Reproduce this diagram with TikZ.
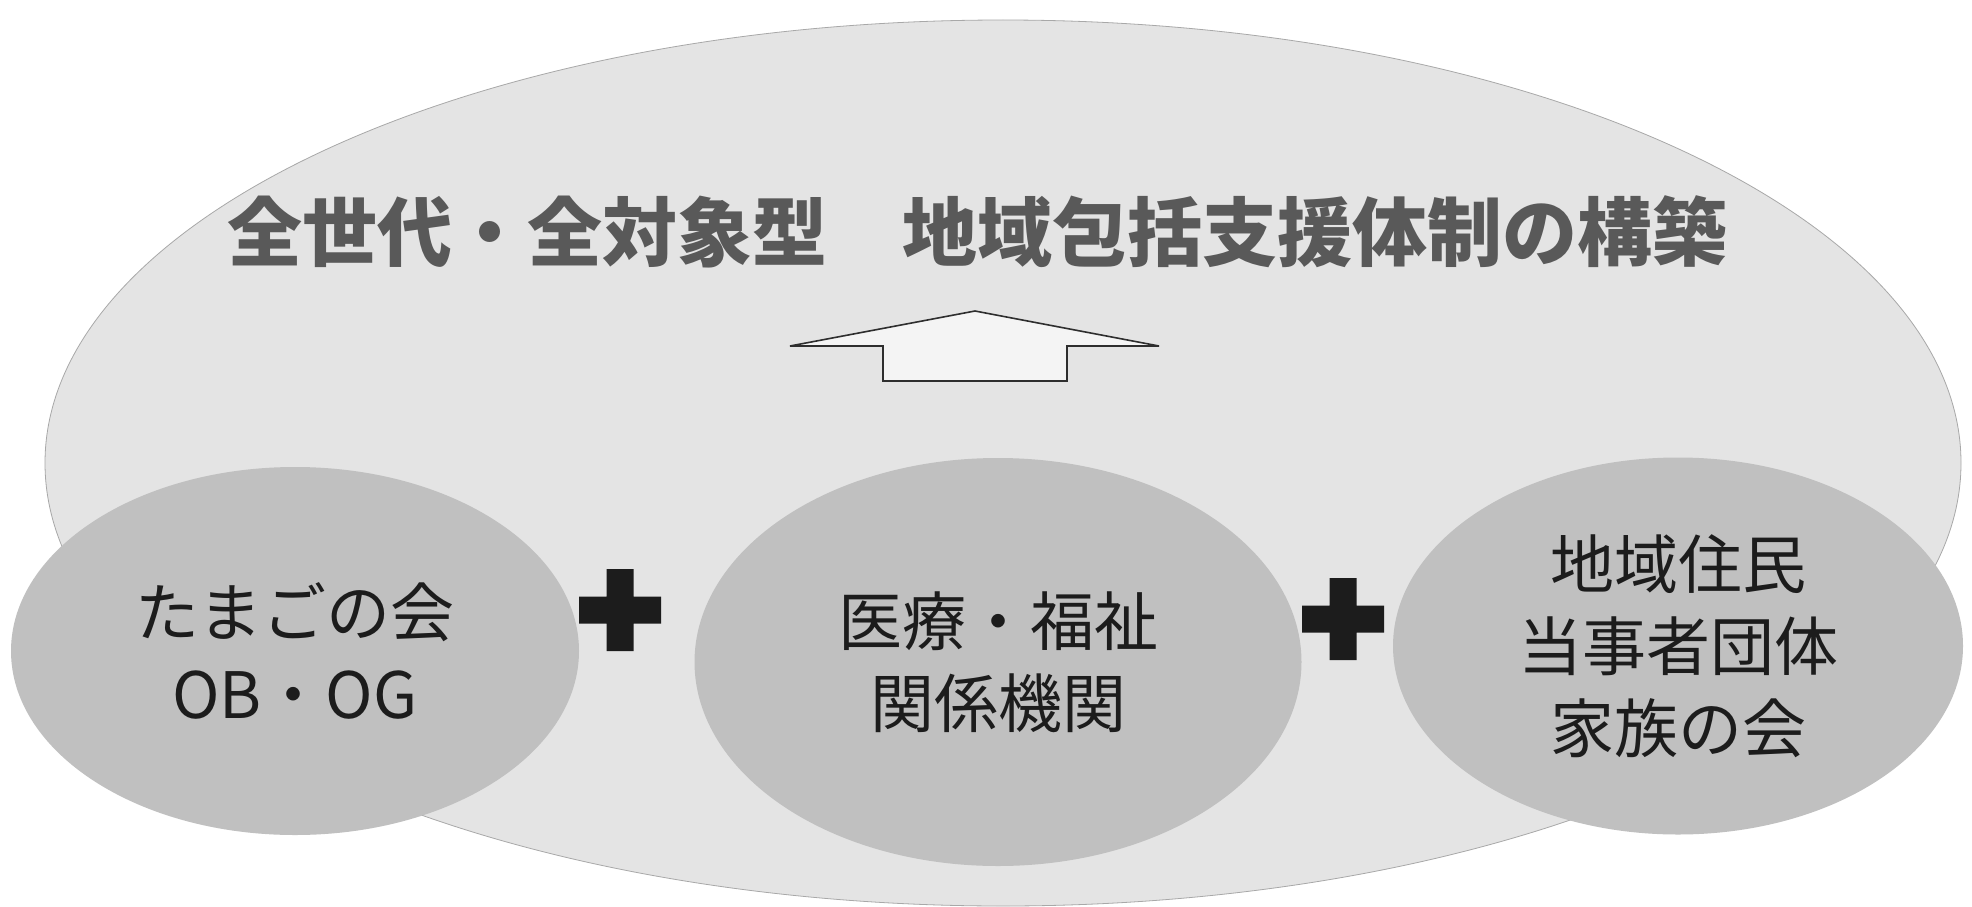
\documentclass[tikz,border=0pt]{standalone}
\usepackage{fontspec}
\newfontfamily\jp{Noto Sans CJK JP}
\usetikzlibrary{shapes.geometric}
\definecolor{bigfill}{HTML}{E4E4E4}
\definecolor{bigline}{HTML}{A8A8A8}
\definecolor{smallfill}{HTML}{C0C0C0}
\definecolor{titlegray}{HTML}{595959}
\definecolor{ink}{HTML}{1C1C1C}
\definecolor{arrowfill}{HTML}{F4F4F4}
\definecolor{arrowline}{HTML}{2E2E2E}
\begin{document}
\begin{tikzpicture}[x=1pt,y=-1pt,
  group/.style={ellipse, fill=smallfill, inner sep=0pt, text=ink, align=center,
    font=\jp\fontsize{64}{82}\selectfont},
  whole/.style={ellipse, draw=bigline, line width=0.8pt, fill=bigfill, inner sep=0pt},
  titletext/.style={font=\jp\bfseries\fontsize{75}{90}\selectfont, text=titlegray, inner sep=0pt},
  uparrow/.style={draw=arrowline, line width=1.6pt, fill=arrowfill, line join=miter},
  plussign/.pic={\fill[ink] (-13.5,-41) -- (13.5,-41) -- (13.5,-13.5) -- (41,-13.5) -- (41,13.5)
      -- (13.5,13.5) -- (13.5,41) -- (-13.5,41) -- (-13.5,13.5) -- (-41,13.5) -- (-41,-13.5)
      -- (-13.5,-13.5) -- cycle;}
]
\fill[white] (0,0) rectangle (1972,907);
\useasboundingbox (0,0) rectangle (1972,907);
% large background ellipse
\node[whole, minimum width=1916pt, minimum height=886pt] (all) at (1003,463) {};
% title
\node[titletext] (title) at (977,232) {全世代・全対象型　地域包括支援体制の構築};
% up arrow
\draw[uparrow] (975,311) -- (1159,346) -- (1067,346) -- (1067,381) -- (883,381)
  -- (883,346) -- (790,346) -- cycle;
% three groups
\node[group, minimum width=568pt, minimum height=368pt] (tamago) at (295,651) {たまごの会\\OB・OG};
\node[group, minimum width=607pt, minimum height=408pt] (iryo) at (998,662) {医療・福祉\\関係機関};
\node[group, minimum width=570pt, minimum height=377pt] (chiiki) at (1678,646) {地域住民\\当事者団体\\家族の会};
% plus signs
\pic at (620,610) {plussign};
\pic at (1343,619) {plussign};
\end{tikzpicture}
\end{document}
